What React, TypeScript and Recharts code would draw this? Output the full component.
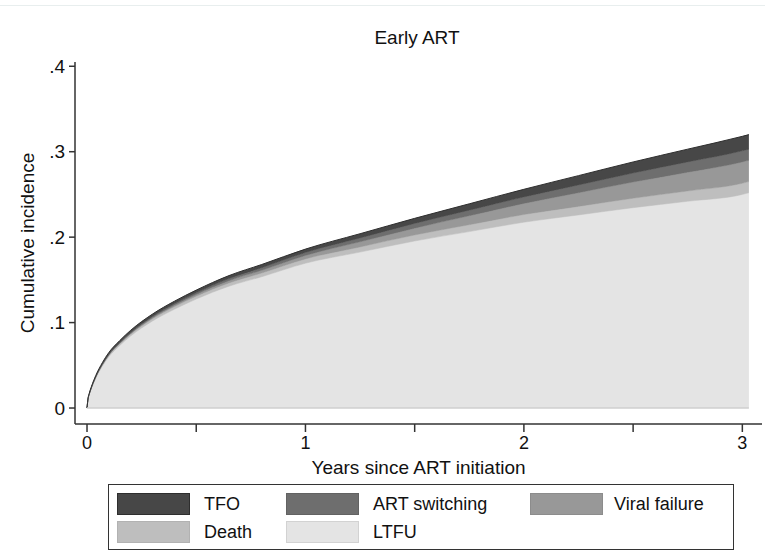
import { AreaChart, Area, XAxis, YAxis, ReferenceLine } from "recharts";

// years since ART initiation
const times = [0, 0.005, 0.01, 0.02, 0.04, 0.07, 0.1, 0.15, 0.2, 0.3, 0.4, 0.5, 0.65, 0.8, 1.0, 1.25, 1.5, 1.75, 2.0, 2.25, 2.5, 2.75, 3.0, 3.03];

// cumulative incidence per competing outcome (stacked, bottom to top)
const ltfu = [0, 0.0105, 0.0152, 0.0226, 0.0348, 0.0488, 0.06, 0.0732, 0.0843, 0.1019, 0.1156, 0.1275, 0.1426, 0.1537, 0.1695, 0.1825, 0.1955, 0.2065, 0.2175, 0.226, 0.2345, 0.242, 0.25, 0.252];
const death = [0, 0.0005, 0.0008, 0.001, 0.0013, 0.0016, 0.0018, 0.002, 0.0022, 0.0026, 0.003, 0.0033, 0.0038, 0.0043, 0.005, 0.006, 0.007, 0.008, 0.009, 0.01, 0.011, 0.012, 0.013, 0.013];
const viralFailure = [0, 0, 0, 0, 0, 0.0002, 0.0004, 0.0006, 0.0008, 0.0012, 0.0016, 0.002, 0.0026, 0.0032, 0.004, 0.006, 0.008, 0.0105, 0.013, 0.016, 0.019, 0.022, 0.025, 0.025];
const artSwitching = [0, 0, 0, 0.0002, 0.0004, 0.0006, 0.0008, 0.001, 0.0012, 0.0015, 0.0018, 0.002, 0.0025, 0.003, 0.0035, 0.0045, 0.0055, 0.0065, 0.0075, 0.009, 0.0105, 0.012, 0.013, 0.013];
const tfo = [0, 0.001, 0.001, 0.0012, 0.0015, 0.0018, 0.002, 0.0022, 0.0025, 0.0028, 0.003, 0.0032, 0.0035, 0.0038, 0.004, 0.005, 0.006, 0.0075, 0.009, 0.011, 0.013, 0.015, 0.017, 0.017];

const xTicks = [0, 0.5, 1, 1.5, 2, 2.5, 3];
const yTicks = [0, 0.1, 0.2, 0.3, 0.4];

const series = [
  { key: "ltfu", name: "LTFU", values: ltfu, fill: "#e4e4e4", stroke: "#d2d2d2" },
  { key: "death", name: "Death", values: death, fill: "#bebebe", stroke: "#b2b2b2" },
  { key: "vf", name: "Viral failure", values: viralFailure, fill: "#989898", stroke: "#8c8c8c" },
  { key: "art", name: "ART switching", values: artSwitching, fill: "#6e6e6e", stroke: "#626262" },
  { key: "tfo", name: "TFO", values: tfo, fill: "#474747", stroke: "#2e2e2e" },
];

// legend order as in the figure (two rows)
const legendOrder = ["TFO", "ART switching", "Viral failure", "Death", "LTFU"];

const data = times.map((t, i) => {
  const row: Record<string, number> = { t };
  series.forEach((s) => (row[s.key] = s.values[i]));
  return row;
});

const FONT = '"Liberation Sans", Arial, Helvetica, sans-serif';

function YTitle({ viewBox }: any) {
  const { x, y, height } = viewBox;
  return (
    <text
      transform={`translate(${x + 7},${y + height / 2}) rotate(-90)`}
      textAnchor="middle"
      dominantBaseline="central"
      fontSize={19}
      fill="#111"
      fontFamily={FONT}
    >
      Cumulative incidence
    </text>
  );
}

const fmtY = (v: number) => (v === 0 ? "0" : "." + Math.round(v * 10));
const fmtX = (v: number) => (Number.isInteger(v) ? String(v) : "");

function Legend() {
  const cols = [
    { sw: 8, tx: 95 },
    { sw: 177, tx: 264 },
    { sw: 421, tx: 505 },
  ];
  return (
    <div
      style={{
        position: "absolute", left: 108, top: 484, width: 626, height: 66,
        boxSizing: "border-box", border: "1px solid #333", fontFamily: FONT,
      }}
    >
      {legendOrder.map((name, i) => {
        const s = series.find((d) => d.name === name)!;
        const c = cols[i % 3];
        const top = i < 3 ? 8 : 36;
        return (
          <div key={name}>
            <div
              style={{
                position: "absolute", left: c.sw, top, width: 73, height: 22,
                boxSizing: "border-box", background: s.fill, border: `1px solid ${s.stroke}`,
              }}
            />
            <div
              style={{
                position: "absolute", left: c.tx, top: top - 1, lineHeight: "24px",
                fontSize: 18, color: "#111", whiteSpace: "nowrap",
              }}
            >
              {name}
            </div>
          </div>
        );
      })}
    </div>
  );
}

export default function App() {
  return (
    <div style={{ position: "absolute", left: 0, top: 0, width: 765, height: 551, background: "#fff", fontFamily: FONT }}>
      <div style={{ position: "absolute", left: 0, top: 5, width: 765, height: 1, background: "#e8eeee" }} />
      <div
        style={{
          position: "absolute", left: 0, width: 834, top: 27, textAlign: "center",
          fontSize: 19, color: "#111",
        }}
      >
        Early ART
      </div>
      <AreaChart width={765} height={480} data={data} margin={{ top: 62, right: 3, left: 20, bottom: 0 }}>
        <XAxis
          dataKey="t"
          type="number"
          domain={[-0.055, 3.09]}
          ticks={xTicks}
          tickFormatter={fmtX}
          interval={0}
          tickSize={8}
          tickMargin={4}
          height={56}
          stroke="#333"
          strokeWidth={1.5}
          tick={{ fontSize: 18, fill: "#111", fontFamily: FONT }}
          label={{ value: "Years since ART initiation", position: "insideBottom", offset: 6, fontSize: 19, fill: "#111", fontFamily: FONT }}
        />
        <YAxis
          type="number"
          domain={[-0.0187, 0.405]}
          ticks={yTicks}
          tickFormatter={fmtY}
          interval={0}
          width={55}
          tickSize={6}
          tickMargin={4}
          stroke="#333"
          strokeWidth={1.5}
          tick={{ fontSize: 19, fill: "#111", fontFamily: FONT }}
          label={<YTitle />}
        />
        {series.map((s) => (
          <Area
            key={s.key}
            type="monotone"
            dataKey={s.key}
            name={s.name}
            stackId="1"
            fill={s.fill}
            fillOpacity={1}
            stroke={s.stroke}
            strokeWidth={1}
            dot={false}
            activeDot={false}
            isAnimationActive={false}
          />
        ))}
        <ReferenceLine
          segment={[{ x: times[0], y: 0 }, { x: times[times.length - 1], y: 0 }]}
          stroke="#cfcfcf"
          strokeWidth={1.5}
        />
      </AreaChart>
      <Legend />
    </div>
  );
}
